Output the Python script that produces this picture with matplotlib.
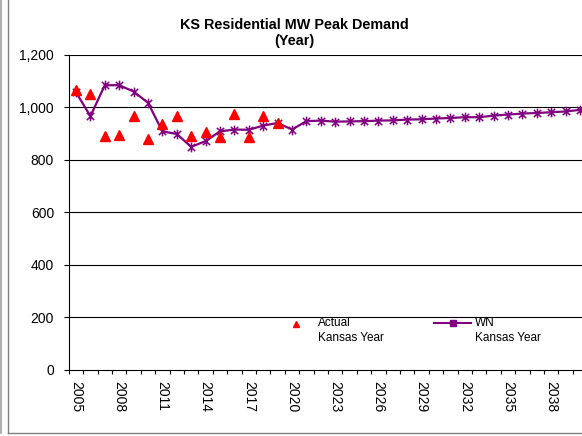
import matplotlib
matplotlib.use("Agg")
import matplotlib.pyplot as plt
from matplotlib.path import Path
from matplotlib.lines import Line2D
import numpy as np

plt.rcParams['font.family'] = ['Liberation Sans', 'DejaVu Sans']

years = list(range(2005, 2041))
actual_years = list(range(2005, 2020))
actual = [1065, 1051, 889, 894, 966, 879, 938, 968, 892, 907, 885, 976, 885, 968, 940]
wn = [1057, 966, 1084, 1084, 1060, 1017, 908, 898, 849, 871, 908, 915, 914, 930, 940,
      915, 947, 949, 945, 946, 947, 949, 950, 953, 954, 957, 959, 962, 962, 968,
      972, 976, 978, 981, 984, 990]
yticks = [0, 200, 400, 600, 800, 1000, 1200]
ytick_labels = ['0', '200', '400', '600', '800', '1,000', '1,200']
xtick_years = list(range(2005, 2039, 3))
title = "KS Residential MW Peak Demand\n(Year)"
legend_labels = ["Actual\nKansas Year", "WN\nKansas Year"]

red = '#FF0000'
purple = '#800080'

star = Path([(0, -1), (0, 1), (-0.75, -0.75), (0.75, 0.75), (-0.75, 0.75), (0.75, -0.75)],
            [Path.MOVETO, Path.LINETO, Path.MOVETO, Path.LINETO, Path.MOVETO, Path.LINETO])

W, H = 582, 436
fig = plt.figure(figsize=(W / 100, H / 100), dpi=100)
fig.patch.set_facecolor('white')

left = 68.8 / W
width = 36 * 14.4 / W
bottom = (H - 369.5) / H
top = (H - 54.8) / H
ax = fig.add_axes([left, bottom, width, top - bottom])

xi = {y: i for i, y in enumerate(years)}
ax.plot([xi[y] for y in years], wn, color=purple, lw=1.6, marker=star, ms=7,
        mec=purple, mew=1.1, zorder=3, clip_on=False)
ax.plot([xi[y] for y in actual_years], actual, linestyle='none', marker='^', ms=7.5,
        color=red, mec=red, zorder=4)

ax.set_xlim(-0.5, len(years) - 0.5)
ax.set_ylim(0, 1200)

for s in ['top', 'right']:
    ax.spines[s].set_visible(False)
for s in ['left', 'bottom']:
    ax.spines[s].set_color('#000000')
    ax.spines[s].set_linewidth(0.8)

ax.set_yticks(yticks)
ax.set_yticklabels(ytick_labels, fontsize=10)
ax.tick_params(axis='y', direction='out', length=3.6, width=0.8, pad=7)
for v in yticks[1:]:
    ax.axhline(v, color='#000000', lw=0.8, zorder=1)

ax.set_xticks(np.arange(-0.5, len(years), 1.0))
ax.set_xticklabels([])
ax.tick_params(axis='x', which='major', direction='out', length=3.2, width=0.8)
ax.set_xticks([xi[y] for y in xtick_years], minor=True)
ax.set_xticklabels([str(y) for y in xtick_years], minor=True, rotation=-90, fontsize=10)
ax.tick_params(axis='x', which='minor', length=0, pad=8)

fig.text(294.5 / W, 1 - 33 / H, title, ha='center', va='center', fontsize=10.4,
         fontweight='bold', linespacing=1.1)

# legend
ax_leg = fig.add_axes([0, 0, 1, 1], facecolor='none')
ax_leg.set_xlim(0, W)
ax_leg.set_ylim(H, 0)
ax_leg.axis('off')
ax_leg.add_line(Line2D([296], [323.5], marker='^', ms=5, color=red, ls='none'))
ax_leg.add_line(Line2D([434, 471], [323, 323], color=purple, lw=1.5))
ax_leg.add_line(Line2D([452.5], [323], marker='s', ms=4, color=purple, ls='none'))
for xl, lab in zip([318, 475], legend_labels):
    l1, l2 = lab.split('\n')
    ax_leg.text(xl, 323, l1, fontsize=8.5, va='center', ha='left')
    ax_leg.text(xl, 337.5, l2, fontsize=8.5, va='center', ha='left')

# outer chart frame
ax_leg.add_line(Line2D([8.3, 8.3], [0, 432.7], color='#808080', lw=1.0))
ax_leg.add_line(Line2D([8.3, W], [432.7, 432.7], color='#808080', lw=1.0))
ax_leg.add_line(Line2D([0.8, 0.8], [0, 433], color='#A0A0A0', lw=1.2))

fig.savefig('out.png', dpi=100, facecolor='white')
